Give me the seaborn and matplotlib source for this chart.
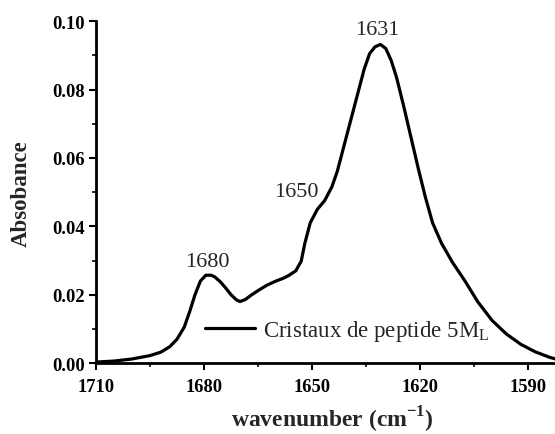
import matplotlib
matplotlib.use("Agg")
import matplotlib.pyplot as plt
from matplotlib.ticker import MultipleLocator
import pandas as pd
import seaborn as sns

# FTIR amide I band of peptide crystals
wavenumber = [1710, 1705, 1700, 1695, 1692, 1689.5, 1687.5, 1685.5, 1684, 1682.5,
              1681, 1679.5, 1678, 1677, 1675.5, 1674, 1672.5, 1671, 1670, 1668.5,
              1667, 1665, 1662.5, 1660, 1658, 1656.5, 1654.5, 1653, 1652, 1650.5,
              1648.5, 1646.5, 1644.5, 1643, 1641.5, 1639.5, 1637.5, 1635.5, 1634,
              1632.5, 1631, 1629.5, 1628, 1626.5, 1624.5, 1622.5, 1620.5, 1618.5,
              1616.5, 1614, 1611, 1607.5, 1604, 1600, 1596, 1592, 1588, 1584, 1582]
absorbance = [0.0003, 0.0006, 0.0012, 0.0022, 0.0032, 0.0048, 0.0070, 0.0105, 0.0150, 0.0200,
              0.0240, 0.0257, 0.0257, 0.0252, 0.0238, 0.0220, 0.0200, 0.0185, 0.0180, 0.0186,
              0.0198, 0.0212, 0.0228, 0.0240, 0.0248, 0.0256, 0.0270, 0.0298, 0.0350, 0.0410,
              0.0450, 0.0475, 0.0515, 0.0560, 0.0620, 0.0700, 0.0780, 0.0860, 0.0905,
              0.0925, 0.0932, 0.0920, 0.0885, 0.0835, 0.0750, 0.0660, 0.0570, 0.0485,
              0.0410, 0.0350, 0.0295, 0.0240, 0.0180, 0.0125, 0.0085, 0.0055, 0.0033, 0.0017, 0.0011]

peak_labels = ["1680", "1650", "1631"]
peak_label_x = [1679.0, 1654.4, 1631.9]
peak_label_y = [0.0284, 0.0488, 0.0962]

x_ticks = [1710, 1680, 1650, 1620, 1590]
y_ticks = [0.00, 0.02, 0.04, 0.06, 0.08, 0.10]

sns.set_theme(style="ticks")
plt.rcParams["font.family"] = ["Liberation Serif", "DejaVu Serif"]
plt.rcParams["mathtext.fontset"] = "custom"
plt.rcParams["mathtext.rm"] = "Liberation Serif"
plt.rcParams["mathtext.bf"] = "Liberation Serif:bold"

df = pd.DataFrame({"wavenumber": wavenumber, "absorbance": absorbance})

fig = plt.figure(figsize=(5.55, 4.35), dpi=100)
ax = fig.add_axes([0.173, 0.163, 0.827, 0.786])

sns.lineplot(data=df, x="wavenumber", y="absorbance", ax=ax, color="black",
             linewidth=2.3, label=r"Cristaux de peptide 5M$_\mathregular{L}$", sort=False)

ax.set_xlim(1710, 1582.5)
ax.set_ylim(0, 0.10)
ax.set_xticks(x_ticks)
ax.set_yticks(y_ticks)
ax.set_xticklabels([str(t) for t in x_ticks])
ax.set_yticklabels([f"{t:.2f}" for t in y_ticks])
ax.xaxis.set_minor_locator(MultipleLocator(15))
ax.yaxis.set_minor_locator(MultipleLocator(0.01))

for lbl in ax.get_xticklabels() + ax.get_yticklabels():
    lbl.set_fontweight("bold")
    lbl.set_fontsize(13.3)

ax.tick_params(which="major", direction="out", length=5, width=1.5, colors="black", pad=3)
ax.tick_params(which="minor", direction="out", length=3, width=1.2, colors="black")
ax.tick_params(axis="x", which="major", pad=6)

for side in ("top", "right"):
    ax.spines[side].set_visible(False)
for side in ("left", "bottom"):
    ax.spines[side].set_linewidth(2)
    ax.spines[side].set_color("black")

ax.set_xlabel(r"wavenumber (cm$^{\mathbf{-1}}$)", fontsize=17, fontweight="bold")
ax.set_ylabel("Absobance", fontsize=16.5, fontweight="bold")
ax.xaxis.set_label_coords(0.514, -0.118)
ax.yaxis.set_label_coords(-0.139, 0.5)

for px, txt, py in zip(peak_label_x, peak_labels, peak_label_y):
    ax.text(px, py, txt, ha="center", va="baseline", fontsize=16)

leg = ax.legend(loc="center left", bbox_to_anchor=(0.2375, 0.095), frameon=False,
                fontsize=16.5, handlelength=2.2, handletextpad=0.35,
                borderpad=0, borderaxespad=0)

fig.savefig("out.png", dpi=100)
